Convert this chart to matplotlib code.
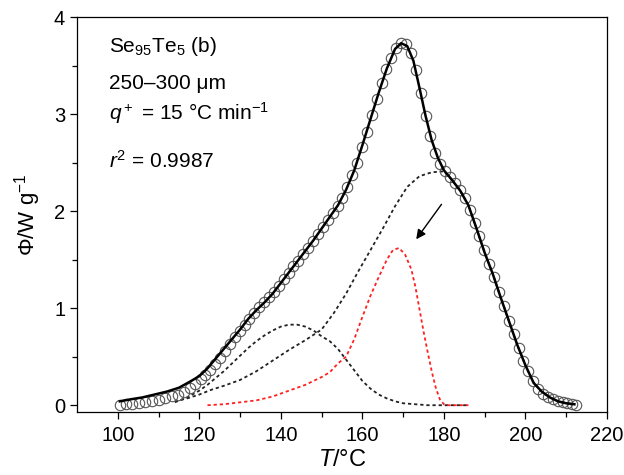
import matplotlib.pyplot as plt
import numpy as np

plt.rcParams['font.family'] = ['Liberation Sans', 'DejaVu Sans']
plt.rcParams['mathtext.fontset'] = 'custom'
plt.rcParams['mathtext.rm'] = 'Liberation Sans'
plt.rcParams['mathtext.it'] = 'Liberation Sans:italic'

# experimental points (circles)
T_exp = [100.5, 102.0, 103.6, 105.2, 106.8, 108.4, 110.0, 111.6, 113.2, 114.8,
         116.3, 117.7, 119.0, 120.3, 121.5, 122.7, 123.9, 125.1, 126.3, 127.5,
         128.7, 129.9, 131.1, 132.3, 133.5, 134.7, 135.9, 137.1, 138.3, 139.5,
         140.7, 141.9, 143.1, 144.3, 145.5, 146.7, 147.9, 149.1, 150.3, 151.5,
         152.7, 153.9, 155.1, 156.3, 157.5, 158.7, 159.9, 161.1, 162.3, 163.5,
         164.7, 165.9, 167.1, 168.3, 169.5, 170.7, 171.9, 173.1, 174.3, 175.5,
         176.7, 177.9, 179.1, 180.3, 181.5, 182.7, 183.9, 185.1, 186.3, 187.5,
         188.7, 189.9, 191.1, 192.3, 193.5, 194.7, 195.9, 197.1, 198.3, 199.5,
         200.7, 201.9, 203.1, 204.3, 205.5, 206.7, 207.9, 209.1, 210.3, 211.5, 212.5]
phi_exp = [0.00, 0.01, 0.01, 0.02, 0.03, 0.04, 0.05, 0.07, 0.09, 0.11,
           0.14, 0.18, 0.22, 0.27, 0.31, 0.36, 0.42, 0.49, 0.56, 0.63,
           0.70, 0.76, 0.83, 0.89, 0.95, 1.01, 1.06, 1.11, 1.17, 1.23,
           1.30, 1.36, 1.43, 1.49, 1.56, 1.62, 1.69, 1.76, 1.84, 1.91,
           1.98, 2.05, 2.14, 2.25, 2.37, 2.50, 2.66, 2.82, 2.99, 3.16,
           3.32, 3.46, 3.58, 3.68, 3.73, 3.72, 3.63, 3.45, 3.22, 2.98,
           2.77, 2.60, 2.49, 2.41, 2.35, 2.29, 2.22, 2.13, 2.01, 1.88,
           1.74, 1.60, 1.46, 1.32, 1.17, 1.02, 0.87, 0.73, 0.59, 0.46,
           0.35, 0.25, 0.17, 0.12, 0.08, 0.06, 0.04, 0.03, 0.02, 0.01, 0.00]

# fitted sum curve
T_fit = [100.5, 103, 106, 109, 112, 115, 118, 120, 122, 124, 126, 128, 130, 132,
         134, 136, 138, 140, 142, 144, 146, 148, 150, 152, 154, 156, 158, 160,
         162, 164, 166, 168, 169.5, 171, 172.5, 174, 175.5, 177, 178.5, 180,
         182, 184, 186, 188, 190, 192, 194, 196, 198, 200, 202, 204, 206, 208,
         210, 212]
phi_fit = [0.04, 0.06, 0.08, 0.11, 0.14, 0.18, 0.25, 0.30, 0.38, 0.48, 0.58, 0.68,
           0.78, 0.89, 0.98, 1.06, 1.15, 1.26, 1.37, 1.48, 1.59, 1.70, 1.82, 1.94,
           2.06, 2.22, 2.42, 2.68, 2.95, 3.22, 3.47, 3.67, 3.73, 3.70, 3.55, 3.27,
           2.98, 2.73, 2.55, 2.42, 2.32, 2.21, 2.06, 1.82, 1.57, 1.35, 1.10, 0.86,
           0.62, 0.41, 0.23, 0.14, 0.08, 0.04, 0.02, 0.01]

# deconvoluted peaks
T_p1 = [114, 117, 120, 122, 124, 126, 128, 130, 132, 134, 136, 138, 140, 142,
        144, 146, 148, 150, 152, 154, 156, 158, 160, 162, 164, 166, 168, 170,
        173, 176, 186]
phi_p1 = [0.03, 0.08, 0.15, 0.21, 0.28, 0.35, 0.43, 0.51, 0.59, 0.66, 0.72, 0.77,
          0.81, 0.83, 0.83, 0.81, 0.77, 0.71, 0.66, 0.58, 0.47, 0.36, 0.25, 0.17,
          0.11, 0.07, 0.04, 0.02, 0.01, 0.00, 0.00]

T_p2 = [114, 117, 120, 123, 126, 130, 134, 138, 142, 146, 150, 153, 156, 159,
        162, 165, 168, 171, 174, 177, 180, 182, 184, 186, 188, 190, 192, 194,
        196, 198, 200, 202, 204, 206, 208, 210, 212]
phi_p2 = [0.04, 0.07, 0.11, 0.16, 0.20, 0.26, 0.35, 0.46, 0.57, 0.67, 0.78, 0.95,
          1.15, 1.38, 1.60, 1.82, 2.05, 2.25, 2.36, 2.40, 2.41, 2.32, 2.21, 2.06,
          1.82, 1.57, 1.35, 1.10, 0.86, 0.62, 0.41, 0.23, 0.14, 0.08, 0.04, 0.02,
          0.01]

T_p3 = [122, 126, 130, 134, 138, 142, 146, 150, 152, 154, 156, 158, 160, 162,
        164, 166, 167.5, 169, 170.5, 172, 173, 174, 175, 176, 177, 178, 179, 180,
        181, 186]
phi_p3 = [0.00, 0.01, 0.03, 0.05, 0.09, 0.15, 0.21, 0.29, 0.34, 0.43, 0.50, 0.68,
          0.91, 1.13, 1.32, 1.50, 1.60, 1.62, 1.55, 1.40, 1.22, 0.99, 0.76, 0.55,
          0.35, 0.18, 0.06, 0.01, 0.00, 0.00]

fig = plt.figure(figsize=(6.24, 4.75), dpi=100)
ax = fig.add_axes([0.1234, 0.1326, 0.8494, 0.8316])

dots = (0, (1.8, 1.6))
ax.plot(T_p1, phi_p1, color='#222222', lw=1.3, ls=dots, zorder=2)
ax.plot(T_p2, phi_p2, color='#222222', lw=1.3, ls=dots, zorder=2)
ax.plot(T_p3, phi_p3, color='#ff2020', lw=1.3, ls=dots, zorder=2)
ax.plot(T_exp, phi_exp, ls='none', marker='o', ms=7.5, mfc='none',
        mec='#555555', mew=0.8, zorder=3)
ax.plot(T_fit, phi_fit, color='black', lw=1.8, zorder=4)

ax.annotate('', xy=(173.2, 1.71), xytext=(179.4, 2.07),
            arrowprops=dict(arrowstyle='-|>', color='black', lw=1.0,
                            mutation_scale=14, shrinkA=0, shrinkB=0))

fs = 15
ax.text(97.8, 3.70, 'Se$_{95}$Te$_5$ (b)', fontsize=fs, va='center')
ax.text(97.8, 3.32, '250\u2013300 \u03bcm', fontsize=fs, va='center')
ax.text(97.8, 3.01, '$q^+$ = 15 \u00b0C min$^{\u22121}$', fontsize=fs, va='center')
ax.text(97.8, 2.52, '$r^2$ = 0.9987', fontsize=fs, va='center')

ax.set_xlim(90, 220)
ax.set_ylim(-0.07, 4)
ax.set_xticks([100, 120, 140, 160, 180, 200, 220])
ax.set_xticks(np.arange(110, 220, 20), minor=True)
ax.set_yticks([0, 1, 2, 3, 4])
ax.set_yticks([0.5, 1.5, 2.5, 3.5], minor=True)
ax.tick_params(which='both', direction='out', top=False, right=False,
               labelsize=14.5, width=0.9)
ax.tick_params(which='major', length=5)
ax.tick_params(which='minor', length=3.5)
ax.tick_params(axis='x', pad=5)
for s in ax.spines.values():
    s.set_linewidth(0.9)

ax.set_xlabel('$T$/\u00b0C', fontsize=17, labelpad=3)
ax.set_ylabel('\u03a6/W g$^{\u22121}$', fontsize=16, labelpad=8)

fig.savefig('out.png', dpi=100)
